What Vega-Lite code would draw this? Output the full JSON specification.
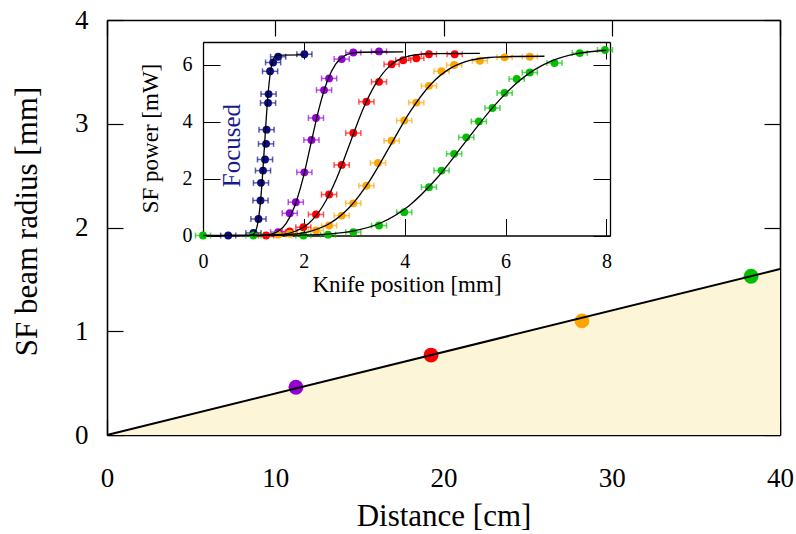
{
  "$schema": "https://vega.github.io/schema/vega-lite/v6.json",
  "width": 673,
  "height": 415,
  "autosize": {"type": "none"},
  "padding": {"left": 107, "top": 20, "right": 16, "bottom": 99},
  "background": "white",
  "config": {
    "view": {"stroke": null},
    "font": "Liberation Serif",
    "text": {"font": "Liberation Serif"},
    "axis": {
      "grid": false,
      "domainColor": "black",
      "tickColor": "black",
      "labelColor": "black",
      "titleColor": "black",
      "labelFont": "Liberation Serif",
      "titleFont": "Liberation Serif",
      "titleFontWeight": "normal",
      "labelFlush": false,
      "labelOverlap": false,
      "zindex": 1
    }
  },
  "datasets": {
    "radius": [
      {"s": "11 cm", "d": 11.23, "r": 0.46},
      {"s": "19 cm", "d": 19.26, "r": 0.77},
      {"s": "28 cm", "d": 28.23, "r": 1.10},
      {"s": "38 cm", "d": 38.28, "r": 1.53}
    ],
    "radiusFit": [
      {"d": 0, "r": 0},
      {"d": 40, "r": 1.6}
    ],
    "knife": [
      {"s": "Focused", "x": 0.5, "y": 0.0, "ex": 0.15},
      {"s": "Focused", "x": 1.0, "y": 0.09, "ex": 0.15},
      {"s": "Focused", "x": 1.1, "y": 0.58, "ex": 0.15},
      {"s": "Focused", "x": 1.14, "y": 1.23, "ex": 0.15},
      {"s": "Focused", "x": 1.15, "y": 1.85, "ex": 0.15},
      {"s": "Focused", "x": 1.19, "y": 2.28, "ex": 0.15},
      {"s": "Focused", "x": 1.23, "y": 2.67, "ex": 0.15},
      {"s": "Focused", "x": 1.25, "y": 3.22, "ex": 0.15},
      {"s": "Focused", "x": 1.26, "y": 3.72, "ex": 0.15},
      {"s": "Focused", "x": 1.29, "y": 4.66, "ex": 0.15},
      {"s": "Focused", "x": 1.3, "y": 4.97, "ex": 0.15},
      {"s": "Focused", "x": 1.33, "y": 5.77, "ex": 0.15},
      {"s": "Focused", "x": 1.39, "y": 6.08, "ex": 0.15},
      {"s": "Focused", "x": 1.49, "y": 6.28, "ex": 0.15},
      {"s": "Focused", "x": 2.01, "y": 6.37, "ex": 0.15},
      {"s": "11 cm", "x": 1.49, "y": 0.12, "ex": 0.15},
      {"s": "11 cm", "x": 1.72, "y": 0.78, "ex": 0.15},
      {"s": "11 cm", "x": 1.84, "y": 1.17, "ex": 0.15},
      {"s": "11 cm", "x": 2.01, "y": 2.22, "ex": 0.15},
      {"s": "11 cm", "x": 2.15, "y": 3.36, "ex": 0.15},
      {"s": "11 cm", "x": 2.24, "y": 4.13, "ex": 0.15},
      {"s": "11 cm", "x": 2.4, "y": 5.11, "ex": 0.15},
      {"s": "11 cm", "x": 2.5, "y": 5.52, "ex": 0.15},
      {"s": "11 cm", "x": 2.75, "y": 6.2, "ex": 0.15},
      {"s": "11 cm", "x": 2.98, "y": 6.43, "ex": 0.15},
      {"s": "11 cm", "x": 3.49, "y": 6.47, "ex": 0.15},
      {"s": "19 cm", "x": 1.25, "y": 0.0, "ex": 0.15},
      {"s": "19 cm", "x": 1.72, "y": 0.14, "ex": 0.15},
      {"s": "19 cm", "x": 1.99, "y": 0.29, "ex": 0.15},
      {"s": "19 cm", "x": 2.24, "y": 0.74, "ex": 0.15},
      {"s": "19 cm", "x": 2.5, "y": 1.44, "ex": 0.15},
      {"s": "19 cm", "x": 2.75, "y": 2.48, "ex": 0.15},
      {"s": "19 cm", "x": 2.98, "y": 3.6, "ex": 0.15},
      {"s": "19 cm", "x": 3.24, "y": 4.7, "ex": 0.15},
      {"s": "19 cm", "x": 3.49, "y": 5.4, "ex": 0.15},
      {"s": "19 cm", "x": 3.74, "y": 6.02, "ex": 0.15},
      {"s": "19 cm", "x": 3.97, "y": 6.16, "ex": 0.15},
      {"s": "19 cm", "x": 4.23, "y": 6.23, "ex": 0.15},
      {"s": "19 cm", "x": 4.48, "y": 6.37, "ex": 0.15},
      {"s": "19 cm", "x": 4.99, "y": 6.37, "ex": 0.15},
      {"s": "28 cm", "x": 1.49, "y": 0.03, "ex": 0.15},
      {"s": "28 cm", "x": 1.72, "y": 0.06, "ex": 0.15},
      {"s": "28 cm", "x": 2.24, "y": 0.18, "ex": 0.15},
      {"s": "28 cm", "x": 2.5, "y": 0.35, "ex": 0.15},
      {"s": "28 cm", "x": 2.75, "y": 0.7, "ex": 0.15},
      {"s": "28 cm", "x": 2.98, "y": 1.13, "ex": 0.15},
      {"s": "28 cm", "x": 3.24, "y": 1.75, "ex": 0.15},
      {"s": "28 cm", "x": 3.47, "y": 2.55, "ex": 0.15},
      {"s": "28 cm", "x": 3.74, "y": 3.33, "ex": 0.15},
      {"s": "28 cm", "x": 3.99, "y": 4.04, "ex": 0.15},
      {"s": "28 cm", "x": 4.23, "y": 4.67, "ex": 0.15},
      {"s": "28 cm", "x": 4.48, "y": 5.26, "ex": 0.15},
      {"s": "28 cm", "x": 4.73, "y": 5.77, "ex": 0.15},
      {"s": "28 cm", "x": 4.98, "y": 5.99, "ex": 0.15},
      {"s": "28 cm", "x": 5.49, "y": 6.14, "ex": 0.15},
      {"s": "28 cm", "x": 5.98, "y": 6.26, "ex": 0.15},
      {"s": "28 cm", "x": 6.48, "y": 6.28, "ex": 0.15},
      {"s": "38 cm", "x": 0.0, "y": 0.0, "ex": 0.15},
      {"s": "38 cm", "x": 1.0, "y": 0.0, "ex": 0.15},
      {"s": "38 cm", "x": 1.99, "y": 0.0, "ex": 0.15},
      {"s": "38 cm", "x": 2.48, "y": 0.03, "ex": 0.15},
      {"s": "38 cm", "x": 2.98, "y": 0.12, "ex": 0.15},
      {"s": "38 cm", "x": 3.49, "y": 0.35, "ex": 0.15},
      {"s": "38 cm", "x": 3.99, "y": 0.82, "ex": 0.15},
      {"s": "38 cm", "x": 4.48, "y": 1.7, "ex": 0.15},
      {"s": "38 cm", "x": 4.73, "y": 2.28, "ex": 0.15},
      {"s": "38 cm", "x": 4.98, "y": 2.87, "ex": 0.15},
      {"s": "38 cm", "x": 5.22, "y": 3.45, "ex": 0.15},
      {"s": "38 cm", "x": 5.47, "y": 4.01, "ex": 0.15},
      {"s": "38 cm", "x": 5.74, "y": 4.48, "ex": 0.15},
      {"s": "38 cm", "x": 5.98, "y": 5.01, "ex": 0.15},
      {"s": "38 cm", "x": 6.22, "y": 5.5, "ex": 0.15},
      {"s": "38 cm", "x": 6.48, "y": 5.73, "ex": 0.15},
      {"s": "38 cm", "x": 6.97, "y": 6.06, "ex": 0.15},
      {"s": "38 cm", "x": 7.47, "y": 6.41, "ex": 0.15},
      {"s": "38 cm", "x": 7.97, "y": 6.52, "ex": 0.15}
    ],
    "knifeFit": [
      {"s": "Focused", "x": 0.5, "y": 0.0},
      {"s": "Focused", "x": 0.95, "y": 0.01},
      {"s": "Focused", "x": 0.995, "y": 0.04},
      {"s": "Focused", "x": 1.04, "y": 0.14},
      {"s": "Focused", "x": 1.085, "y": 0.42},
      {"s": "Focused", "x": 1.13, "y": 1.01},
      {"s": "Focused", "x": 1.175, "y": 1.96},
      {"s": "Focused", "x": 1.22, "y": 3.18},
      {"s": "Focused", "x": 1.265, "y": 4.39},
      {"s": "Focused", "x": 1.31, "y": 5.34},
      {"s": "Focused", "x": 1.355, "y": 5.93},
      {"s": "Focused", "x": 1.4, "y": 6.21},
      {"s": "Focused", "x": 1.445, "y": 6.31},
      {"s": "Focused", "x": 1.49, "y": 6.34},
      {"s": "Focused", "x": 2.0, "y": 6.35},
      {"s": "11 cm", "x": 1.0, "y": 0.0},
      {"s": "11 cm", "x": 1.165, "y": 0.01},
      {"s": "11 cm", "x": 1.33, "y": 0.04},
      {"s": "11 cm", "x": 1.49, "y": 0.15},
      {"s": "11 cm", "x": 1.65, "y": 0.43},
      {"s": "11 cm", "x": 1.815, "y": 1.02},
      {"s": "11 cm", "x": 1.98, "y": 1.99},
      {"s": "11 cm", "x": 2.14, "y": 3.23},
      {"s": "11 cm", "x": 2.3, "y": 4.46},
      {"s": "11 cm", "x": 2.465, "y": 5.43},
      {"s": "11 cm", "x": 2.63, "y": 6.02},
      {"s": "11 cm", "x": 2.79, "y": 6.3},
      {"s": "11 cm", "x": 2.95, "y": 6.41},
      {"s": "11 cm", "x": 3.115, "y": 6.44},
      {"s": "11 cm", "x": 3.97, "y": 6.45},
      {"s": "19 cm", "x": 1.25, "y": 0.01},
      {"s": "19 cm", "x": 1.565, "y": 0.04},
      {"s": "19 cm", "x": 1.83, "y": 0.15},
      {"s": "19 cm", "x": 2.1, "y": 0.43},
      {"s": "19 cm", "x": 2.37, "y": 1.02},
      {"s": "19 cm", "x": 2.64, "y": 1.97},
      {"s": "19 cm", "x": 2.905, "y": 3.2},
      {"s": "19 cm", "x": 3.17, "y": 4.43},
      {"s": "19 cm", "x": 3.44, "y": 5.38},
      {"s": "19 cm", "x": 3.71, "y": 5.97},
      {"s": "19 cm", "x": 3.98, "y": 6.25},
      {"s": "19 cm", "x": 4.245, "y": 6.36},
      {"s": "19 cm", "x": 4.51, "y": 6.39},
      {"s": "19 cm", "x": 5.49, "y": 6.4},
      {"s": "28 cm", "x": 1.0, "y": 0.0},
      {"s": "28 cm", "x": 1.31, "y": 0.01},
      {"s": "28 cm", "x": 1.71, "y": 0.04},
      {"s": "28 cm", "x": 2.11, "y": 0.14},
      {"s": "28 cm", "x": 2.51, "y": 0.42},
      {"s": "28 cm", "x": 2.91, "y": 1.0},
      {"s": "28 cm", "x": 3.31, "y": 1.94},
      {"s": "28 cm", "x": 3.71, "y": 3.15},
      {"s": "28 cm", "x": 4.11, "y": 4.36},
      {"s": "28 cm", "x": 4.51, "y": 5.3},
      {"s": "28 cm", "x": 4.91, "y": 5.88},
      {"s": "28 cm", "x": 5.31, "y": 6.16},
      {"s": "28 cm", "x": 5.71, "y": 6.26},
      {"s": "28 cm", "x": 6.11, "y": 6.29},
      {"s": "28 cm", "x": 6.77, "y": 6.3},
      {"s": "38 cm", "x": 0.0, "y": 0.0},
      {"s": "38 cm", "x": 1.84, "y": 0.01},
      {"s": "38 cm", "x": 2.4, "y": 0.04},
      {"s": "38 cm", "x": 2.96, "y": 0.15},
      {"s": "38 cm", "x": 3.52, "y": 0.44},
      {"s": "38 cm", "x": 4.08, "y": 1.04},
      {"s": "38 cm", "x": 4.64, "y": 2.02},
      {"s": "38 cm", "x": 5.2, "y": 3.28},
      {"s": "38 cm", "x": 5.76, "y": 4.53},
      {"s": "38 cm", "x": 6.32, "y": 5.51},
      {"s": "38 cm", "x": 6.88, "y": 6.11},
      {"s": "38 cm", "x": 7.44, "y": 6.4},
      {"s": "38 cm", "x": 8.0, "y": 6.51}
    ]
  },
  "resolve": {"scale": {"x": "independent", "y": "independent"}},
  "layer": [
    {
      "layer": [
        {
          "data": {"name": "radiusFit"},
          "mark": {"type": "area", "color": "#fdf5d8"},
          "encoding": {
            "x": {
              "field": "d", "type": "quantitative", "title": "Distance [cm]",
              "scale": {"domain": [0, 40], "nice": false},
              "axis": {
                "orient": "bottom", "values": [0, 10, 20, 30, 40], "format": "d",
                "tickSize": -16, "tickWidth": 1.2, "domainWidth": 1.6,
                "labelFont": "Liberation Serif", "titleFont": "Liberation Serif",
                "labelFontSize": 27, "labelPadding": 46,
                "titleFontSize": 31, "titleY": 90, "titleBaseline": "alphabetic"
              }
            },
            "y": {
              "field": "r", "type": "quantitative", "title": "SF beam radius [mm]",
              "scale": {"domain": [0, 4], "nice": false},
              "axis": {
                "orient": "left", "values": [0, 1, 2, 3, 4], "format": "d",
                "tickSize": -16, "tickWidth": 1.2, "domainWidth": 1.6,
                "labelFont": "Liberation Serif", "titleFont": "Liberation Serif",
                "labelFontSize": 27, "labelPadding": 35,
                "titleFontSize": 31, "titleX": -71, "titleY": 201, "titleBaseline": "alphabetic"
              }
            }
          }
        },
        {
          "data": {"name": "radius"},
          "mark": {"type": "circle", "size": 220, "opacity": 1},
          "encoding": {
            "x": {"field": "d", "type": "quantitative", "title": "Distance [cm]"},
            "y": {"field": "r", "type": "quantitative", "title": "SF beam radius [mm]"},
            "color": {
              "field": "s", "type": "nominal", "legend": null,
              "scale": {
                "domain": ["Focused", "11 cm", "19 cm", "28 cm", "38 cm"],
                "range": ["#0c0c80", "#9400d3", "#ff0000", "#ffa500", "#00c000"]
              }
            }
          }
        },
        {
          "data": {"name": "radiusFit"},
          "mark": {"type": "line", "color": "black", "strokeWidth": 2},
          "encoding": {
            "x": {"field": "d", "type": "quantitative", "title": "Distance [cm]"},
            "y": {"field": "r", "type": "quantitative", "title": "SF beam radius [mm]"}
          }
        }
      ]
    },
    {
      "data": {"name": "radiusFit"},
      "mark": {"type": "point", "opacity": 0},
      "encoding": {
        "x": {
          "field": "d", "type": "quantitative", "title": null,
          "scale": {"domain": [0, 40], "nice": false},
          "axis": {
            "orient": "top", "values": [0, 10, 20, 30, 40], "labels": false,
            "tickSize": -16, "tickWidth": 1.2, "domainWidth": 1.6
          }
        },
        "y": {
          "field": "r", "type": "quantitative", "title": null,
          "scale": {"domain": [0, 4], "nice": false},
          "axis": {
            "orient": "right", "values": [0, 1, 2, 3, 4], "labels": false,
            "tickSize": -16, "tickWidth": 1.2, "domainWidth": 1.6
          }
        }
      }
    },
    {
      "layer": [
        {
          "data": {"name": "knife"},
          "mark": {"type": "errorbar", "ticks": true, "size": 6, "thickness": 1.5, "opacity": 0.65},
          "encoding": {
            "x": {
              "field": "x", "type": "quantitative", "title": "Knife position [mm]",
              "scale": {"domain": [0, 8.07], "range": [96, 503], "nice": false},
              "axis": {
                "orient": "bottom", "offset": -199.5, "values": [0, 2, 4, 6, 8], "format": "d",
                "tickSize": -17, "tickWidth": 1, "domainWidth": 1.3,
                "labelFont": "Liberation Serif", "titleFont": "Liberation Serif",
                "labelFontSize": 20, "labelPadding": 33,
                "titleFontSize": 23, "titleY": 56, "titleBaseline": "alphabetic"
              }
            },
            "xError": {"field": "ex"},
            "y": {
              "field": "y", "type": "quantitative", "title": "SF power [mW]",
              "scale": {"domain": [0, 6.8], "range": [215.5, 22], "nice": false},
              "axis": {
                "orient": "left", "offset": -96, "values": [0, 2, 4, 6], "format": "d",
                "tickSize": -17, "tickWidth": 1, "domainWidth": 1.3,
                "labelFont": "Liberation Serif", "titleFont": "Liberation Serif",
                "labelFontSize": 20, "labelPadding": 28,
                "titleFontSize": 23, "titleX": -46, "titleY": 118, "titleBaseline": "alphabetic"
              }
            },
            "color": {"field": "s", "type": "nominal", "legend": null}
          }
        },
        {
          "data": {"name": "knife"},
          "mark": {"type": "circle", "size": 62, "opacity": 1},
          "encoding": {
            "x": {"field": "x", "type": "quantitative", "title": "Knife position [mm]"},
            "y": {"field": "y", "type": "quantitative", "title": "SF power [mW]"},
            "color": {"field": "s", "type": "nominal", "legend": null}
          }
        },
        {
          "data": {"name": "knifeFit"},
          "mark": {"type": "line", "color": "black", "strokeWidth": 1.3, "interpolate": "monotone"},
          "encoding": {
            "x": {"field": "x", "type": "quantitative", "title": "Knife position [mm]"},
            "y": {"field": "y", "type": "quantitative", "title": "SF power [mW]"},
            "detail": {"field": "s", "type": "nominal"}
          }
        },
        {
          "data": {"values": [{"label": "Focused"}]},
          "mark": {"type": "text", "angle": 270, "align": "center", "baseline": "middle", "fontSize": 25, "color": "#1a1a8c", "font": "Liberation Serif"},
          "encoding": {
            "x": {"datum": 0.57, "type": "quantitative"},
            "y": {"datum": 3.16, "type": "quantitative"},
            "text": {"field": "label"}
          }
        }
      ]
    },
    {
      "data": {"name": "knifeFit"},
      "mark": {"type": "point", "opacity": 0},
      "encoding": {
        "x": {
          "field": "x", "type": "quantitative", "title": null,
          "scale": {"domain": [0, 8.07], "range": [96, 503], "nice": false},
          "axis": {
            "orient": "top", "offset": -22, "values": [0, 2, 4, 6, 8], "labels": false,
            "tickSize": -17, "tickWidth": 1, "domainWidth": 1.3
          }
        },
        "y": {
          "field": "y", "type": "quantitative", "title": null,
          "scale": {"domain": [0, 6.8], "range": [215.5, 22], "nice": false},
          "axis": {
            "orient": "right", "offset": -170, "values": [0, 2, 4, 6], "labels": false,
            "tickSize": -17, "tickWidth": 1, "domainWidth": 1.3
          }
        }
      }
    }
  ]
}
